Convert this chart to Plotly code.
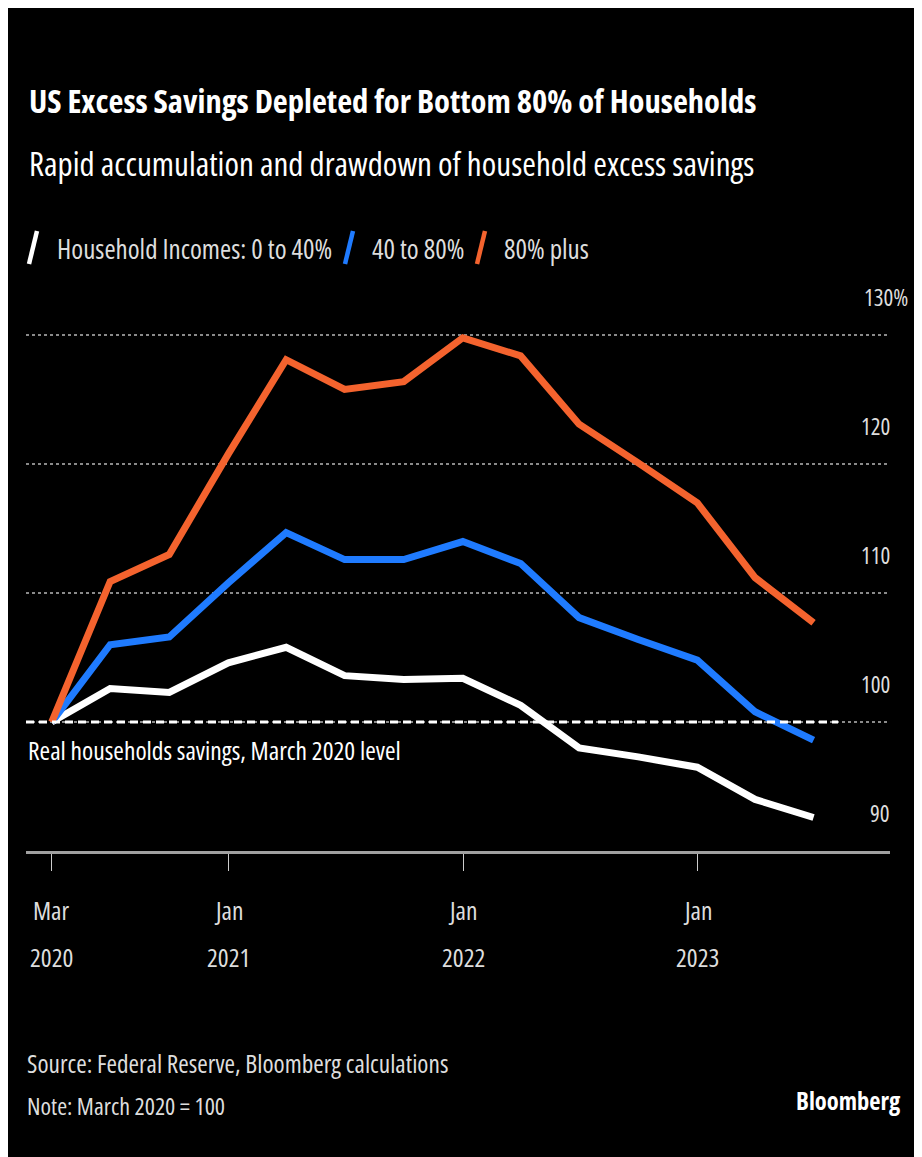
import plotly.graph_objects as go

# ---- data ----
dates = ["2020-03-31", "2020-06-30", "2020-09-30", "2020-12-31",
         "2021-03-31", "2021-06-30", "2021-09-30", "2021-12-31",
         "2022-03-31", "2022-06-30", "2022-09-30", "2022-12-31",
         "2023-03-31", "2023-06-30"]
bottom_40 = [100, 102.6, 102.3, 104.6, 105.8, 103.6, 103.3, 103.4,
             101.3, 98.0, 97.3, 96.5, 94.0, 92.6]
mid_40_80 = [100, 106.0, 106.6, 110.8, 114.7, 112.6, 112.6, 114.0,
             112.3, 108.1, 106.4, 104.8, 100.8, 98.6]
top_20 = [100, 110.9, 113.0, 120.8, 128.1, 125.8, 126.4, 129.8,
          128.4, 123.1, 120.1, 117.0, 111.2, 107.7]
series_names = ["Household Incomes: 0 to 40%", "40 to 80%", "80% plus"]
series_colors = ["#ffffff", "#1f7bff", "#f4632e"]
x_tickvals = ["2020-03-31", "2021-01-01", "2022-01-01", "2023-01-01"]
x_month = ["Mar", "Jan", "Jan", "Jan"]
x_year = ["2020", "2021", "2022", "2023"]
y_tickvals = [90, 100, 110, 120, 130]
y_ticktext = ["90", "100", "110", "120", "130%"]

FONT = "Open Sans"


def cond(s, bold=False):
    inner = f"<b>{s}</b>" if bold else s
    return f"<span style='font-stretch:condensed'>{inner}</span>"


W, H = 922, 1157
OFF = 8  # page margin of the browser
L, R, T, B = 18, 40, 295, 314
PW, PH = W - L - R, H - T - B


def px(xs):
    return (xs - OFF - L) / PW


def py(ys):
    return (H - B - (ys - OFF)) / PH


fig = go.Figure()
for vals, name, col in zip([bottom_40, mid_40_80, top_20], series_names, series_colors):
    fig.add_trace(go.Scatter(x=dates, y=vals, name=name, mode="lines",
                             line=dict(color=col, width=7), showlegend=False))

shapes = [
    dict(type="line", xref="paper", yref="y", x0=0, x1=px(838), y0=100, y1=100,
         line=dict(color="white", width=3, dash="8px,5px"), layer="above"),
]
for x0, col in zip([29, 345, 477], series_colors):
    shapes.append(dict(type="line", xref="paper", yref="paper",
                       x0=px(x0), x1=px(x0 + 8), y0=py(264), y1=py(231),
                       line=dict(color=col, width=4.5)))

annotations = [
    dict(text=cond("US Excess Savings Depleted for Bottom 80% of Households", bold=True),
         x=px(27), y=py(100), xref="paper", yref="paper", xanchor="left", yanchor="middle",
         showarrow=False, font=dict(size=32.6, color="white", family=FONT)),
    dict(text=cond("Rapid accumulation and drawdown of household excess savings"),
         x=px(27), y=py(163), xref="paper", yref="paper", xanchor="left", yanchor="middle",
         showarrow=False, font=dict(size=33, color="white", family=FONT)),
    dict(text=cond("Real households savings, March 2020 level"),
         x=0, y=100, yshift=-28, xref="paper", yref="y", xanchor="left", yanchor="middle",
         showarrow=False, font=dict(size=25.5, color="white", family=FONT)),
    dict(text=cond("Source: Federal Reserve, Bloomberg calculations"),
         x=px(25), y=py(1063), xref="paper", yref="paper", xanchor="left", yanchor="middle",
         showarrow=False, font=dict(size=25.3, color="#dddddd", family=FONT)),
    dict(text=cond("Note: March 2020 = 100"),
         x=px(25), y=py(1105), xref="paper", yref="paper", xanchor="left", yanchor="middle",
         showarrow=False, font=dict(size=24, color="#dddddd", family=FONT)),
    dict(text=cond("Bloomberg", bold=True),
         x=px(903), y=py(1100), xref="paper", yref="paper", xanchor="right", yanchor="middle",
         showarrow=False, font=dict(size=24.5, color="white", family=FONT)),
]
for xl, name in zip([55, 370, 502], series_names):
    annotations.append(dict(text=cond(name), x=px(xl), y=py(248), xref="paper", yref="paper",
                            xanchor="left", yanchor="middle", showarrow=False,
                            font=dict(size=27, color="#dddddd", family=FONT)))
for v, t in zip(y_tickvals, y_ticktext):
    if t.endswith("%"):
        annotations.append(dict(text=cond(t), x=px(862), y=v, yshift=38, xref="paper", yref="y",
                                xanchor="left", yanchor="middle", showarrow=False,
                                font=dict(size=23, color="#dddddd", family=FONT)))
    else:
        annotations.append(dict(text=cond(t), x=px(892), y=v, yshift=38, xref="paper", yref="y",
                                xanchor="right", yanchor="middle", showarrow=False,
                                font=dict(size=23, color="#dddddd", family=FONT)))
for xv, m, yv in zip(x_tickvals, x_month, x_year):
    annotations.append(dict(text=cond(m), x=xv, y=py(910), xref="x", yref="paper",
                            xanchor="center", yanchor="middle", showarrow=False,
                            font=dict(size=25.5, color="#dddddd", family=FONT)))
    annotations.append(dict(text=cond(yv), x=xv, y=py(957), xref="x", yref="paper",
                            xanchor="center", yanchor="middle", showarrow=False,
                            font=dict(size=25.5, color="#dddddd", family=FONT)))

fig.update_layout(
    width=W, height=H,
    margin=dict(l=L, r=R, t=T, b=B),
    paper_bgcolor="black", plot_bgcolor="black",
    font=dict(family=FONT, color="white"),
    shapes=shapes, annotations=annotations,
    showlegend=False,
)
fig.update_xaxes(
    type="date", range=["2020-02-20", "2023-10-27"],
    tickvals=x_tickvals, showticklabels=False,
    ticks="outside", ticklen=17, tickwidth=1, tickcolor="#cccccc",
    showgrid=False, showline=True, linecolor="#a0a0a0", linewidth=3,
    zeroline=False,
)
fig.update_yaxes(
    range=[90, 132.5], tickvals=[100, 110, 120, 130], showticklabels=False,
    showgrid=True, gridcolor="#8a8a8a", gridwidth=2, griddash="dot",
    zeroline=False, showline=False, ticks="",
)

fig.write_html("out.html")
